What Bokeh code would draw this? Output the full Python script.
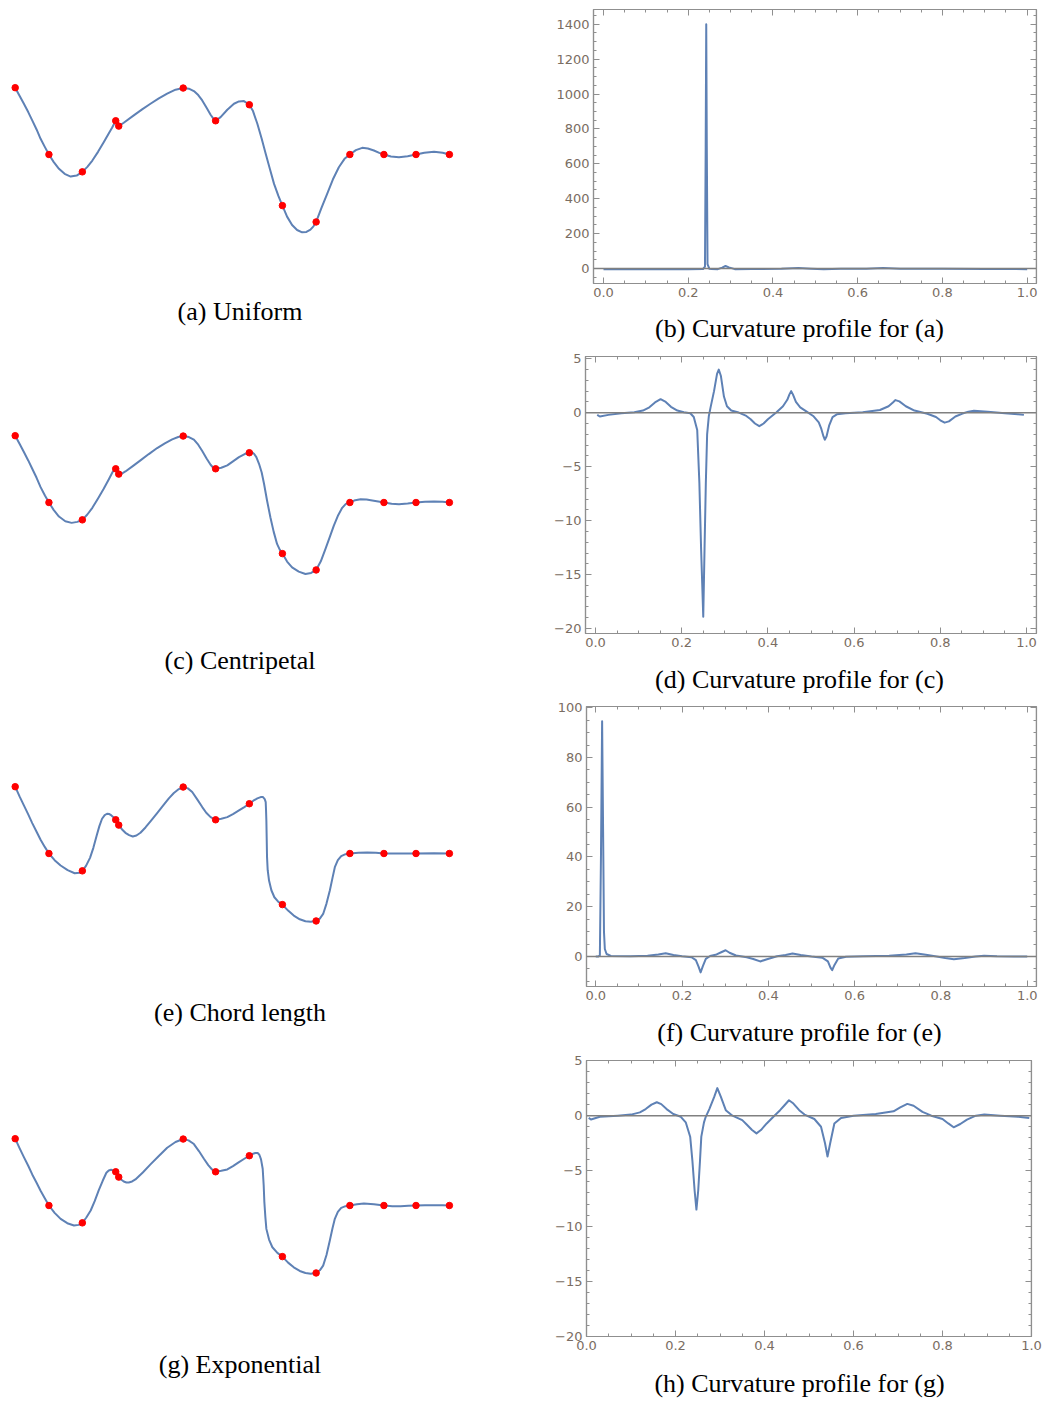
from bokeh.plotting import figure
from bokeh.layouts import column, row
from bokeh.models import Range1d, FixedTicker, LinearAxis, Span, CustomJSTickFormatter
from bokeh.embed import file_html
from bokeh.resources import INLINE
from bokeh.core.properties import value

# ---------------- data ----------------
# control points (same for every parameterisation)
ctrl_x = [0.00, 1.01, 2.01, 3.01, 3.10, 5.03, 6.00, 7.01, 8.00, 9.01, 10.02, 11.04, 12.00, 13.00]
ctrl_y = [2.00, 0.00, -0.52, 1.01, 0.85, 1.99, 1.01, 1.49, -1.53, -2.02, 0.00, 0.00, 0.00, 0.00]

# (a) uniform curve
uni_x = [0.00, 0.13, 0.26, 0.39, 0.51, 0.64, 0.76, 0.89, 1.01,
         1.15, 1.31, 1.48, 1.66, 1.84, 2.01,
         2.16, 2.31, 2.48, 2.65, 2.80, 2.90, 3.01, 3.07, 3.10,
         3.25, 3.55, 3.80, 4.05, 4.30, 4.55, 4.80, 5.03,
         5.20, 5.35, 5.48, 5.60, 5.73, 5.85, 5.95, 6.00,
         6.15, 6.35, 6.55, 6.70, 6.85, 7.01,
         7.12, 7.25, 7.38, 7.50, 7.63, 7.75, 7.88, 8.00,
         8.14, 8.29, 8.44, 8.59, 8.72, 8.84, 8.93, 9.01,
         9.17, 9.34, 9.51, 9.69, 9.86, 10.02,
         10.20, 10.39, 10.56, 10.74, 10.90, 11.04,
         11.25, 11.49, 11.75, 12.00, 12.25, 12.54, 12.80, 13.00]
uni_y = [2.00, 1.76, 1.52, 1.27, 1.02, 0.75, 0.47, 0.22, 0.00,
         -0.22, -0.43, -0.58, -0.66, -0.63, -0.52,
         -0.37, -0.18, 0.08, 0.37, 0.63, 0.80, 1.01, 0.95, 0.85,
         0.95, 1.17, 1.35, 1.52, 1.68, 1.82, 1.94, 1.99,
         1.97, 1.90, 1.78, 1.62, 1.40, 1.19, 1.05, 1.01,
         1.12, 1.34, 1.52, 1.59, 1.60, 1.49,
         1.30, 0.92, 0.47, 0.02, -0.45, -0.88, -1.24, -1.53,
         -1.86, -2.11, -2.26, -2.33, -2.32, -2.25, -2.15, -2.02,
         -1.60, -1.18, -0.75, -0.38, -0.13, 0.00,
         0.13, 0.20, 0.18, 0.12, 0.05, 0.00,
         -0.06, -0.08, -0.05, 0.00, 0.05, 0.08, 0.05, 0.00]

# (c) centripetal curve
cen_x = [0.00, 0.13, 0.26, 0.39, 0.51, 0.64, 0.76, 0.89, 1.01,
         1.15, 1.31, 1.50, 1.69, 1.86, 2.01,
         2.16, 2.31, 2.48, 2.65, 2.80, 2.92, 3.01, 3.05, 3.10,
         3.18, 3.30, 3.52, 3.75, 4.00, 4.25, 4.48, 4.70, 4.88, 5.03,
         5.20, 5.35, 5.48, 5.60, 5.73, 5.85, 5.93, 6.00,
         6.17, 6.35, 6.52, 6.70, 6.87, 7.01,
         7.09, 7.15, 7.22, 7.30, 7.38, 7.45, 7.54, 7.64, 7.74, 7.84, 7.92, 8.00,
         8.14, 8.29, 8.49, 8.69, 8.86, 9.01,
         9.15, 9.29, 9.42, 9.54, 9.67, 9.79, 9.90, 10.02,
         10.18, 10.34, 10.52, 10.69, 10.87, 11.04,
         11.27, 11.49, 11.75, 12.00, 12.27, 12.54, 12.80, 13.00]
cen_y = [2.00, 1.76, 1.51, 1.26, 1.01, 0.74, 0.46, 0.21, 0.00,
         -0.22, -0.42, -0.56, -0.61, -0.58, -0.52,
         -0.36, -0.16, 0.12, 0.41, 0.69, 0.92, 1.01, 0.94, 0.85,
         0.86, 0.93, 1.09, 1.26, 1.45, 1.63, 1.77, 1.89, 1.96, 1.99,
         1.96, 1.88, 1.73, 1.54, 1.32, 1.13, 1.04, 1.01,
         1.04, 1.11, 1.23, 1.36, 1.45, 1.49,
         1.50, 1.46, 1.36, 1.16, 0.90, 0.56, 0.06, -0.44, -0.88, -1.24, -1.41, -1.53,
         -1.77, -1.94, -2.07, -2.14, -2.11, -2.02,
         -1.76, -1.39, -1.03, -0.69, -0.38, -0.16, -0.04, 0.00,
         0.07, 0.10, 0.09, 0.06, 0.03, 0.00,
         -0.04, -0.05, -0.03, 0.00, 0.02, 0.03, 0.02, 0.00]

# (e) chord length curve
cho_x = [0.00, 0.13, 0.26, 0.39, 0.51, 0.64, 0.76, 0.89, 1.01,
         1.18, 1.36, 1.57, 1.78, 1.92, 2.01,
         2.12, 2.24, 2.34, 2.44, 2.52, 2.60, 2.68, 2.75, 2.82, 2.88, 2.95, 3.01, 3.06, 3.10,
         3.20, 3.30, 3.41, 3.52, 3.63, 3.75, 3.90, 4.05, 4.25, 4.45, 4.60, 4.75, 4.90, 5.03,
         5.17, 5.30, 5.45, 5.60, 5.72, 5.85, 6.00,
         6.17, 6.35, 6.52, 6.70, 6.86, 7.01,
         7.13, 7.25, 7.35, 7.42, 7.47, 7.50, 7.51, 7.52, 7.53, 7.54, 7.56, 7.60, 7.67, 7.76, 7.88, 8.00,
         8.17, 8.34, 8.52, 8.69, 8.85, 9.01,
         9.12, 9.22, 9.32, 9.42, 9.50, 9.57, 9.66, 9.76, 9.89, 10.02,
         10.28, 10.54, 10.80, 11.04, 11.54, 12.00, 12.54, 13.00]
cho_y = [2.00, 1.71, 1.44, 1.17, 0.91, 0.65, 0.41, 0.19, 0.00,
         -0.20, -0.36, -0.50, -0.59, -0.58, -0.52,
         -0.37, -0.13, 0.17, 0.54, 0.82, 1.04, 1.15, 1.19, 1.18, 1.14, 1.08, 1.02, 0.94, 0.85,
         0.72, 0.62, 0.55, 0.51, 0.54, 0.62, 0.78, 0.96, 1.21, 1.46, 1.65, 1.81, 1.93, 1.99,
         1.95, 1.84, 1.62, 1.39, 1.22, 1.09, 1.01,
         1.04, 1.09, 1.18, 1.29, 1.39, 1.49,
         1.58, 1.65, 1.69, 1.69, 1.63, 1.54, 1.30, 0.99, 0.45, -0.11, -0.50, -0.81, -1.10, -1.31, -1.45, -1.53,
         -1.71, -1.86, -1.97, -2.03, -2.04, -2.02,
         -1.95, -1.81, -1.50, -1.11, -0.73, -0.41, -0.20, -0.08, -0.02, 0.00,
         0.02, 0.03, 0.02, 0.00, 0.00, 0.00, 0.01, 0.00]

# (g) exponential curve
exp_x = [0.00, 0.13, 0.26, 0.39, 0.51, 0.64, 0.76, 0.89, 1.01,
         1.18, 1.36, 1.56, 1.76, 1.90, 2.01,
         2.13, 2.26, 2.38, 2.50, 2.62, 2.73, 2.80, 2.87, 2.94, 3.01, 3.06, 3.10,
         3.17, 3.25, 3.33, 3.40, 3.50, 3.60, 3.82, 4.05, 4.30, 4.55, 4.80, 5.03,
         5.19, 5.35, 5.50, 5.65, 5.78, 5.90, 6.00,
         6.17, 6.35, 6.52, 6.70, 6.86, 7.01,
         7.10, 7.19, 7.26, 7.31, 7.36, 7.41, 7.44, 7.46, 7.49, 7.52, 7.60, 7.70, 7.85, 8.00,
         8.17, 8.34, 8.52, 8.69, 8.85, 9.01,
         9.12, 9.22, 9.32, 9.42, 9.50, 9.57, 9.66, 9.76, 9.89, 10.02,
         10.23, 10.44, 10.74, 11.04, 11.29, 11.54, 11.77, 12.00, 12.27, 12.54, 12.80, 13.00]
exp_y = [2.00, 1.72, 1.45, 1.19, 0.93, 0.68, 0.44, 0.21, 0.00,
         -0.22, -0.40, -0.53, -0.60, -0.58, -0.52,
         -0.36, -0.15, 0.13, 0.45, 0.74, 0.98, 1.05, 1.07, 1.05, 1.01, 0.93, 0.85,
         0.78, 0.72, 0.69, 0.69, 0.72, 0.78, 0.99, 1.23, 1.48, 1.73, 1.90, 1.99,
         1.95, 1.84, 1.63, 1.40, 1.21, 1.07, 1.01,
         1.04, 1.08, 1.18, 1.30, 1.40, 1.49,
         1.54, 1.57, 1.57, 1.52, 1.38, 1.10, 0.60, 0.10, -0.35, -0.70, -1.02, -1.25, -1.42, -1.53,
         -1.71, -1.85, -1.96, -2.02, -2.04, -2.02,
         -1.94, -1.80, -1.48, -1.05, -0.68, -0.40, -0.19, -0.07, -0.02, 0.00,
         0.04, 0.06, 0.04, 0.00, -0.02, -0.02, -0.01, 0.00, 0.01, 0.01, 0.01, 0.00]

# (b) curvature profile for (a)
kb_x = [0.0, 0.1, 0.2, 0.235, 0.2395, 0.2412, 0.2425, 0.2438, 0.2455, 0.25, 0.255, 0.27, 0.28, 0.288,
        0.296, 0.31, 0.35, 0.42, 0.46, 0.49, 0.52, 0.56, 0.62, 0.66, 0.70, 0.80, 0.90, 1.0]
kb_y = [-4, -4, -4, -3, 10, 700, 1400, 700, 25, -2, -3, -4, 5, 14,
        6, -4, -3, -2, 3, -1, -4, -2, -1, 2, -1, -2, -3, -4]

# (d) curvature profile for (c)
kd_x = [0.004, 0.010, 0.03, 0.06, 0.09, 0.11, 0.125, 0.138, 0.151, 0.163,
        0.175, 0.19, 0.205, 0.220, 0.228, 0.236, 0.241, 0.245, 0.250, 0.253,
        0.256, 0.259, 0.263, 0.267, 0.275, 0.282, 0.286, 0.291, 0.298, 0.305,
        0.315, 0.33, 0.35, 0.36, 0.37, 0.38, 0.39, 0.40, 0.42, 0.435,
        0.445, 0.450, 0.454, 0.458, 0.465, 0.475, 0.49, 0.505, 0.518, 0.524,
        0.529, 0.532, 0.536, 0.542, 0.55, 0.56, 0.58, 0.62, 0.66, 0.68,
        0.69, 0.696, 0.705, 0.72, 0.74, 0.77, 0.79, 0.80, 0.81, 0.82,
        0.835, 0.85, 0.865, 0.878, 0.91, 0.95, 0.98, 0.994]
kd_y = [-0.2, -0.35, -0.2, -0.05, 0.05, 0.2, 0.5, 0.95, 1.25, 1.0,
        0.55, 0.2, 0.05, -0.05, -0.4, -1.6, -6.5, -12.6, -18.9, -12.6,
        -6.5, -2.0, -0.3, 0.5, 2.0, 3.6, 4.0, 3.4, 1.5, 0.6,
        0.2, 0.05, -0.3, -0.6, -1.0, -1.25, -1.0, -0.6, 0.05, 0.6,
        1.2, 1.7, 2.0, 1.7, 1.0, 0.5, 0.1, -0.3, -0.9, -1.5,
        -2.2, -2.5, -2.2, -1.2, -0.4, -0.15, -0.05, 0.05, 0.25, 0.6,
        0.95, 1.17, 1.05, 0.6, 0.2, -0.1, -0.4, -0.7, -0.92, -0.8,
        -0.35, -0.1, 0.1, 0.18, 0.1, -0.05, -0.15, -0.2]

# (f) curvature profile for (e)
kf_x = [0.0, 0.006, 0.0095, 0.012, 0.0147, 0.017, 0.019, 0.021, 0.025, 0.035, 0.08, 0.12, 0.145, 0.162, 0.18,
        0.2, 0.222, 0.232, 0.238, 0.243, 0.248, 0.255, 0.265, 0.28, 0.292, 0.301, 0.31, 0.325, 0.35, 0.365,
        0.381, 0.395, 0.42, 0.44, 0.456, 0.475, 0.5, 0.525, 0.538, 0.544, 0.548, 0.553, 0.562, 0.58, 0.62,
        0.68, 0.72, 0.741, 0.765, 0.79, 0.81, 0.83, 0.855, 0.88, 0.9, 0.93, 0.97, 1.0]
kf_y = [0.0, 0.0, 0.5, 40, 94.6, 50, 10, 3, 1, 0.2, 0.1, 0.3, 0.8, 1.3, 0.6,
        0.1, -0.3, -1.5, -4.0, -6.4, -4.0, -1.0, 0.2, 0.8, 1.8, 2.5, 1.5, 0.4, -0.3, -1.0,
        -2.0, -1.2, 0.1, 0.6, 1.2, 0.6, 0.0, -0.5, -2.0, -4.5, -5.5, -3.5, -0.8, -0.1, 0.1,
        0.3, 0.8, 1.3, 0.7, 0.0, -0.6, -1.1, -0.6, 0.0, 0.3, 0.1, 0.0, 0.0]

# (h) curvature profile for (g)
kh_x = [0.005, 0.01, 0.03, 0.07, 0.1, 0.12, 0.133, 0.146, 0.158, 0.168,
        0.18, 0.195, 0.212, 0.223, 0.233, 0.238, 0.243, 0.247, 0.251, 0.255,
        0.258, 0.264, 0.268, 0.276, 0.287, 0.294, 0.302, 0.313, 0.328, 0.35,
        0.36, 0.372, 0.382, 0.392, 0.405, 0.42, 0.435, 0.445, 0.455, 0.465,
        0.478, 0.49, 0.512, 0.527, 0.536, 0.5416, 0.5476, 0.557, 0.572, 0.6,
        0.65, 0.69, 0.705, 0.721, 0.735, 0.755, 0.775, 0.8, 0.813, 0.825,
        0.84, 0.855, 0.875, 0.894, 0.93, 0.97, 0.995]
kh_y = [-0.2, -0.35, -0.1, 0.0, 0.1, 0.3, 0.6, 1.0, 1.22, 1.05,
        0.6, 0.15, -0.1, -0.6, -1.9, -4.1, -6.8, -8.5, -6.8, -4.1,
        -1.9, -0.6, -0.1, 0.6, 1.7, 2.5, 1.7, 0.5, 0.0, -0.4,
        -0.8, -1.3, -1.6, -1.3, -0.7, -0.1, 0.5, 0.95, 1.4, 1.1,
        0.5, 0.1, -0.3, -1.0, -2.5, -3.7, -2.5, -0.7, -0.2, 0.0,
        0.15, 0.4, 0.75, 1.07, 0.9, 0.35, 0.0, -0.3, -0.7, -1.05,
        -0.75, -0.35, 0.0, 0.1, 0.0, -0.1, -0.2]

# ticks
x_ticks = [0.0, 0.2, 0.4, 0.6, 0.8, 1.0]
x_minor = [round(i * 0.05, 2) for i in range(-1, 22)]
yt_b = [0, 200, 400, 600, 800, 1000, 1200, 1400]
ym_b = [i * 50 for i in range(-2, 30)]
yt_d = [-20, -15, -10, -5, 0, 5]
ym_d = list(range(-21, 6))
yt_f = [0, 20, 40, 60, 80, 100]
ym_f = list(range(-15, 101, 5))
yt_h = [-20, -15, -10, -5, 0, 5]
ym_h = list(range(-20, 6))

left_caps = ["(a) Uniform", "(c) Centripetal", "(e) Chord length", "(g) Exponential"]
right_caps = ["(b) Curvature profile for (a)", "(d) Curvature profile for (c)",
              "(f) Curvature profile for (e)", "(h) Curvature profile for (g)"]

# ---------------- styling / layout ----------------
BLUE = "#5E81B5"
FRAME = "#8f8f8f"
TICKLBL = "#7a6d62"
SERIF = "Liberation Serif"
LEFT_W, RIGHT_W = 540, 506
PX_UNIT = 33.4      # pixels per control-point unit on the left
X0_PX, LEVEL_PX = 14.7, 154.0

rows_spec = [
    dict(H=348, top=9, bottom=283, bl=53, br=10, cap=328, lcap=311,
         xr=(-0.0236, 1.022), yr=(-86.2, 1484.4), yt=yt_b, ym=ym_b),
    dict(H=351, top=8, bottom=285, bl=45, br=10, cap=331, lcap=312,
         xr=(-0.0232, 1.0232), yr=(-20.46, 5.21), yt=yt_d, ym=ym_d),
    dict(H=352, top=7, bottom=287, bl=46, br=10, cap=333, lcap=313,
         xr=(-0.0215, 1.0215), yr=(-12.08, 100.5), yt=yt_f, ym=ym_f),
    dict(H=350, top=9, bottom=285, bl=46, br=15, cap=332, lcap=313,
         xr=(0.0, 1.0), yr=(-20.0, 5.0), yt=yt_h, ym=ym_h),
]
curves = [(uni_x, uni_y), (cen_x, cen_y), (cho_x, cho_y), (exp_x, exp_y)]
profiles = [(kb_x, kb_y), (kd_x, kd_y), (kf_x, kf_y), (kh_x, kh_y)]

xfmt_code = "return tick.toFixed(1);"
yfmt_code = "return tick < 0 ? '\u2212' + String(-tick) : String(tick);"

MAJ_LEN, MIN_LEN = 6, 3


def style_axis(ax):
    ax.axis_line_color = FRAME
    ax.axis_line_width = 1.2
    ax.major_tick_line_color = FRAME
    ax.minor_tick_line_color = FRAME
    ax.major_tick_in = MAJ_LEN
    ax.major_tick_out = 0
    ax.minor_tick_in = MIN_LEN
    ax.minor_tick_out = 0
    ax.major_label_text_font = "DejaVu Sans"
    ax.major_label_text_font_size = "13px"
    ax.major_label_text_color = TICKLBL
    ax.major_label_standoff = 4


def mirror_ticks(p, side, positions, length, loc):
    # tick marks only (no labels) on the top / right frame edges
    ax = LinearAxis(ticker=FixedTicker(ticks=[], minor_ticks=positions), fixed_location=loc)
    ax.axis_line_color = FRAME
    ax.axis_line_width = 1.2
    ax.minor_tick_line_color = FRAME
    ax.minor_tick_in = length
    ax.minor_tick_out = 0
    ax.major_tick_in = 0
    ax.major_tick_out = 0
    p.add_layout(ax, side)


def left_panel(i):
    spec = rows_spec[i]
    H = spec["H"]
    cx, cy = curves[i]
    p = figure(width=LEFT_W, height=H, output_backend="svg", toolbar_location=None,
               x_range=Range1d(-X0_PX / PX_UNIT, (LEFT_W - X0_PX) / PX_UNIT),
               y_range=Range1d(-(H - LEVEL_PX) / PX_UNIT, LEVEL_PX / PX_UNIT),
               x_axis_location=None, y_axis_location=None, min_border=0)
    p.outline_line_color = None
    p.grid.visible = False
    p.line(cx, cy, line_color=BLUE, line_width=2, line_join="round", line_cap="round")
    p.scatter(ctrl_x, ctrl_y, size=6.5, color="#ff0000", line_color="#ff0000")
    p.text(x=[(239.5 - X0_PX) / PX_UNIT], y=[(LEVEL_PX - spec["lcap"]) / PX_UNIT],
           text=[left_caps[i]], text_font=value(SERIF), text_font_size="26px",
           text_align="center", text_baseline="middle", text_color="black")
    return p


def right_panel(i):
    spec = rows_spec[i]
    px, py = profiles[i]
    h = spec["bottom"] + 25
    p = figure(width=RIGHT_W, height=h, output_backend="svg", toolbar_location=None,
               x_range=Range1d(*spec["xr"]), y_range=Range1d(*spec["yr"]),
               x_axis_location=None, y_axis_location=None,
               min_border_left=spec["bl"], min_border_right=spec["br"],
               min_border_top=spec["top"], min_border_bottom=25)
    p.outline_line_color = FRAME
    p.outline_line_width = 1.2
    p.grid.visible = False
    xt = FixedTicker(ticks=x_ticks, minor_ticks=x_minor)
    yt = FixedTicker(ticks=spec["yt"], minor_ticks=spec["ym"])
    bx = LinearAxis(ticker=xt, formatter=CustomJSTickFormatter(code=xfmt_code))
    ly = LinearAxis(ticker=yt, formatter=CustomJSTickFormatter(code=yfmt_code))
    style_axis(bx)
    style_axis(ly)
    p.add_layout(bx, "below")
    p.add_layout(ly, "left")
    # mirrored frame ticks on top and right
    mirror_ticks(p, "above", x_minor, MIN_LEN, spec["yr"][1])
    mirror_ticks(p, "above", x_ticks, MAJ_LEN, spec["yr"][1])
    mirror_ticks(p, "right", spec["ym"], MIN_LEN, spec["xr"][1])
    mirror_ticks(p, "right", spec["yt"], MAJ_LEN, spec["xr"][1])
    p.add_layout(Span(location=0, dimension="width", line_color="#808080", line_width=1.5))
    p.line(px, py, line_color=BLUE, line_width=2, line_join="round")

    ch = spec["H"] - h
    c = figure(width=RIGHT_W, height=ch, output_backend="svg", toolbar_location=None,
               x_range=Range1d(spec["bl"], RIGHT_W - spec["br"]), y_range=Range1d(0, ch),
               x_axis_location=None, y_axis_location=None,
               min_border_left=spec["bl"], min_border_right=spec["br"],
               min_border_top=0, min_border_bottom=0)
    c.outline_line_color = None
    c.grid.visible = False
    c.text(x=[799 - LEFT_W], y=[ch - (spec["cap"] - h)], text=[right_caps[i]],
           text_font=value(SERIF), text_font_size="26px",
           text_align="center", text_baseline="middle", text_color="black")
    return column(p, c, spacing=0)


layout_rows = [row(left_panel(i), right_panel(i), spacing=0) for i in range(4)]
page = column(*layout_rows, spacing=0)

open("out.html", "w", encoding="utf-8").write(file_html(page, INLINE))
